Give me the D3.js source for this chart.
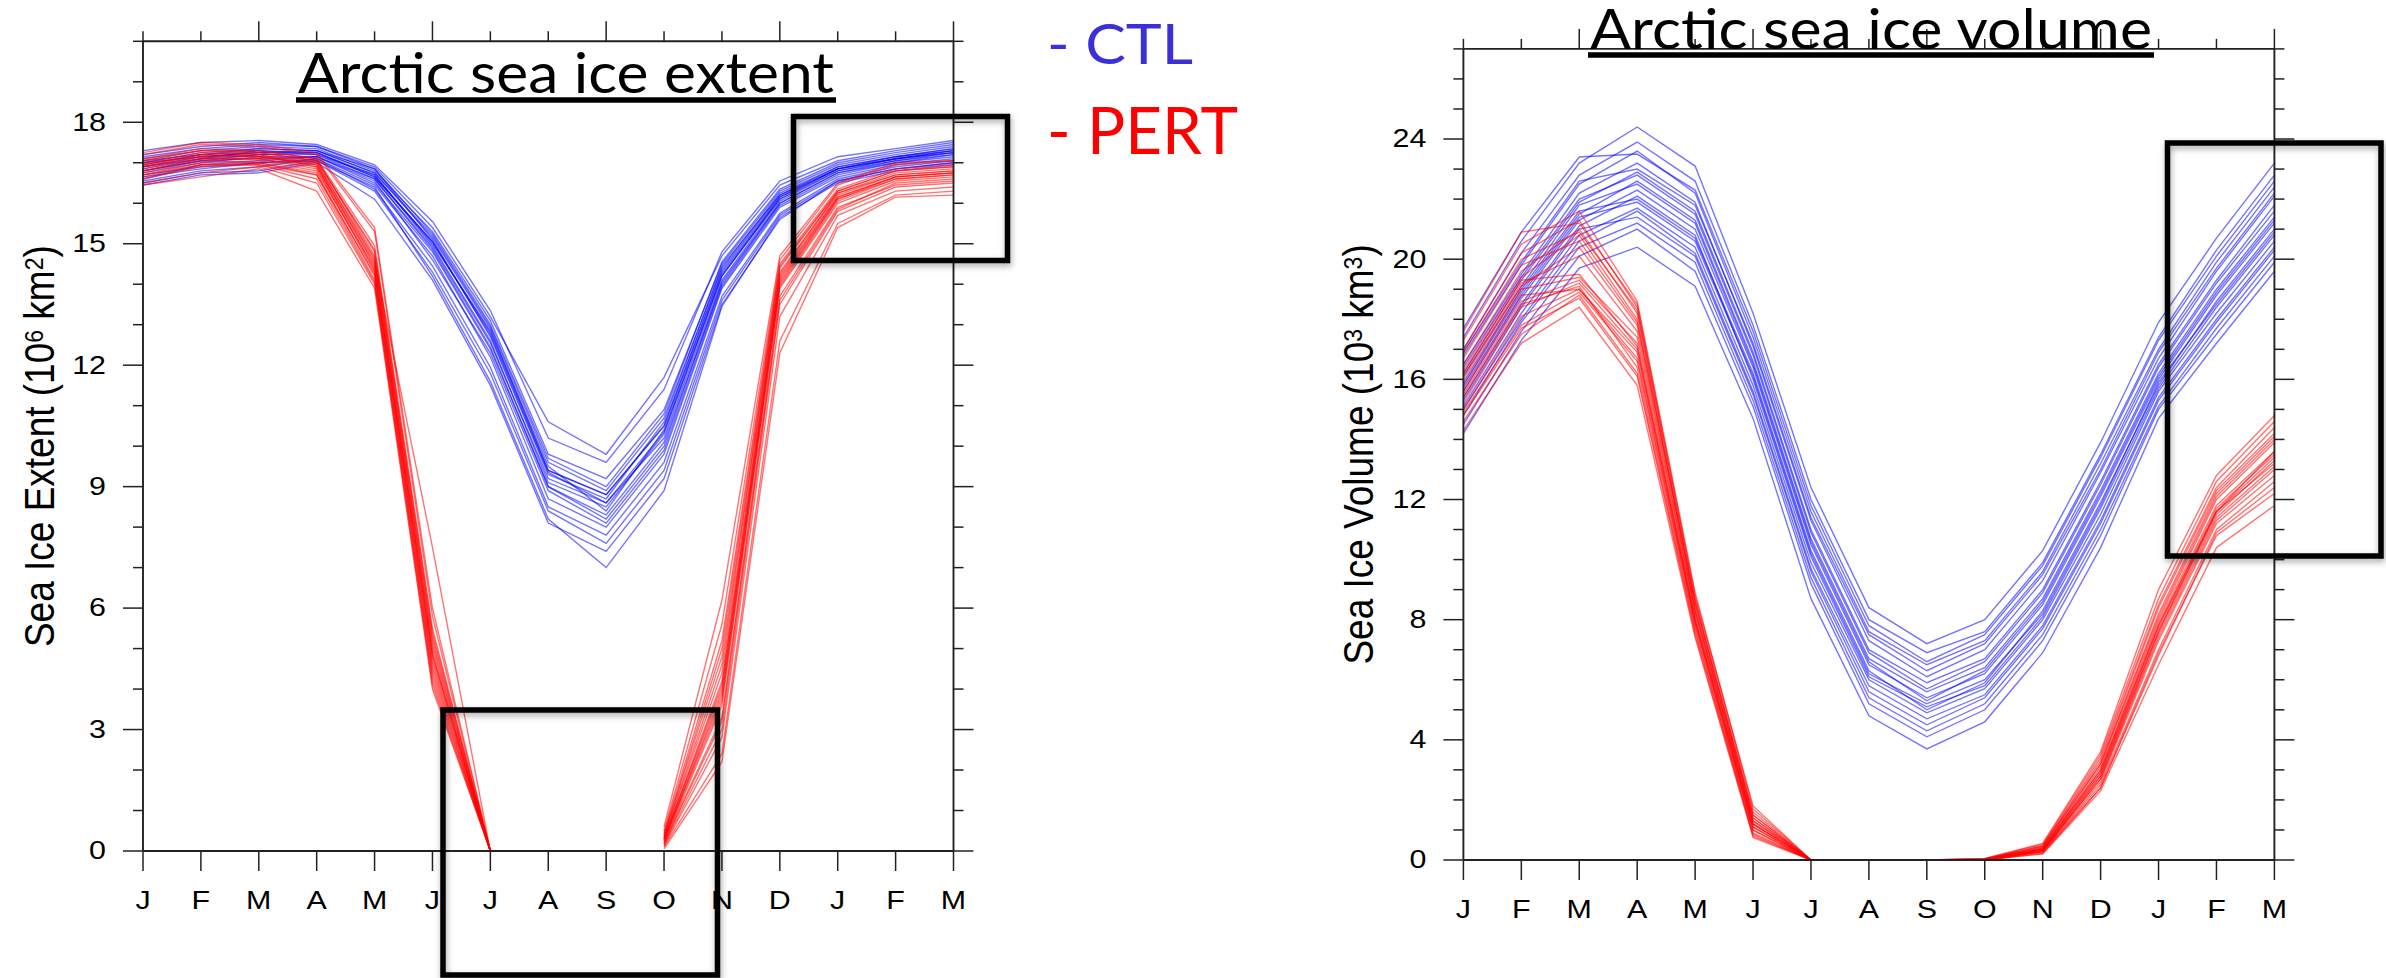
<!DOCTYPE html>
<html>
<head>
<meta charset="utf-8">
<script src="https://cdn.jsdelivr.net/npm/d3@7"></script>
<style>
  html, body { margin: 0; padding: 0; background: #fff; }
  svg { display: block; }
</style>
</head>
<body>
<div id="chart"></div>
<script>
// Month labels along the bottom axis (Jan of year 1 to Mar of year 2)
const months = ["J", "F", "M", "A", "M", "J", "J", "A", "S", "O", "N", "D", "J", "F", "M"];

// Tick values of both panels
const extentTicks = [0, 3, 6, 9, 12, 15, 18];
const volumeTicks = [0, 4, 8, 12, 16, 20, 24];
const topMajorMonths = [2, 5, 8, 11, 14];

// Arctic sea ice extent (10^6 km2), CTL ensemble members
const extentCtl = [
  [17.10, 17.30, 17.40, 17.35, 16.80, 15.30, 13.10, 9.80, 9.20, 10.90, 14.50, 16.30, 16.95, 17.20, 17.40],
  [16.90, 17.15, 17.25, 17.25, 16.65, 15.05, 12.80, 9.40, 8.80, 10.50, 14.30, 16.15, 16.85, 17.10, 17.30],
  [16.60, 16.95, 17.05, 17.15, 16.50, 14.80, 12.40, 9.00, 8.30, 10.10, 14.00, 16.00, 16.75, 17.00, 17.20],
  [17.30, 17.50, 17.55, 17.45, 16.95, 15.55, 13.35, 10.20, 9.60, 11.40, 14.80, 16.55, 17.15, 17.35, 17.55],
  [16.80, 17.05, 17.20, 17.20, 16.70, 14.95, 12.60, 9.10, 8.50, 10.30, 14.20, 16.10, 16.80, 17.05, 17.25],
  [16.50, 16.75, 16.80, 17.05, 16.30, 14.30, 11.80, 8.40, 7.60, 9.40, 13.60, 15.70, 16.55, 16.85, 17.00],
  [17.00, 17.25, 17.35, 17.30, 16.75, 15.20, 12.95, 9.60, 8.90, 10.70, 14.40, 16.25, 16.90, 17.15, 17.35],
  [16.70, 16.90, 17.00, 17.10, 16.45, 14.70, 12.20, 8.70, 8.00, 9.80, 13.90, 15.90, 16.65, 16.95, 17.10],
  [17.20, 17.40, 17.50, 17.40, 16.90, 15.40, 13.20, 10.60, 9.80, 11.70, 14.70, 16.45, 17.05, 17.30, 17.50],
  [16.85, 17.10, 17.30, 17.20, 16.60, 14.90, 12.55, 9.20, 8.60, 10.20, 14.10, 16.05, 16.80, 17.10, 17.25],
  [16.55, 16.80, 16.90, 17.10, 16.35, 14.45, 11.95, 8.50, 7.80, 9.60, 13.70, 15.75, 16.60, 16.90, 17.05],
  [17.05, 17.20, 17.35, 17.30, 16.85, 15.10, 12.70, 9.30, 8.70, 10.60, 14.45, 16.20, 16.90, 17.15, 17.35],
  [16.75, 17.00, 17.15, 17.15, 16.55, 14.60, 12.30, 8.90, 8.10, 9.90, 13.95, 15.95, 16.70, 17.00, 17.15],
  [16.95, 17.20, 17.30, 17.25, 16.70, 15.00, 12.85, 9.50, 8.40, 10.40, 14.25, 16.10, 16.85, 17.10, 17.30],
  [16.65, 16.85, 17.00, 17.05, 16.40, 14.20, 11.60, 8.20, 7.00, 8.90, 13.45, 15.65, 16.50, 16.80, 16.95],
  [17.15, 17.35, 17.45, 17.40, 16.85, 15.25, 13.00, 9.70, 9.00, 10.80, 14.55, 16.35, 17.00, 17.25, 17.45],
  [16.80, 17.05, 17.10, 17.15, 16.60, 14.85, 12.45, 9.00, 8.20, 10.00, 14.05, 16.00, 16.75, 17.05, 17.20],
  [17.00, 17.15, 17.25, 17.30, 16.75, 15.15, 12.90, 9.40, 8.80, 10.50, 14.35, 16.20, 16.85, 17.15, 17.30],
  [16.45, 16.70, 16.75, 17.00, 16.10, 14.10, 11.50, 8.10, 7.40, 9.20, 13.50, 15.60, 16.55, 16.85, 17.00],
  [16.90, 17.10, 17.20, 17.25, 16.65, 15.05, 12.75, 9.35, 8.60, 10.35, 14.20, 16.15, 16.85, 17.10, 17.25]
];

// Arctic sea ice extent (10^6 km2), PERT ensemble members (null = no ice, not plotted)
const extentPert = [
  [17.00, 17.25, 17.20, 17.00, 14.60, 5.00, 0, null, null, 0.30, 4.20, 14.20, 16.20, 16.70, 16.80],
  [16.80, 17.10, 17.10, 16.85, 14.30, 4.60, 0, null, null, 0.20, 3.60, 13.90, 16.00, 16.55, 16.65],
  [17.20, 17.45, 17.40, 17.20, 15.30, 5.80, 0, null, null, 0.50, 5.60, 14.60, 16.45, 16.95, 17.05],
  [16.60, 16.90, 16.95, 16.70, 14.10, 4.30, 0, null, null, 0.15, 3.00, 13.50, 15.80, 16.40, 16.50],
  [16.95, 17.20, 17.25, 17.05, 14.80, 5.30, 0, null, null, 0.35, 4.60, 14.40, 16.30, 16.80, 16.90],
  [16.70, 17.00, 17.05, 16.80, 14.40, 4.80, 0, null, null, 0.25, 3.90, 14.00, 16.10, 16.60, 16.70],
  [17.10, 17.35, 17.30, 17.10, 14.95, 5.50, 0, null, null, 0.45, 5.20, 14.50, 16.35, 16.85, 16.95],
  [16.50, 16.75, 16.90, 16.50, 14.00, 4.10, 0, null, null, 0.10, 2.40, 12.60, 15.50, 16.20, 16.30],
  [16.85, 17.15, 17.15, 16.95, 14.55, 7.50, 0, null, null, 0.30, 4.10, 14.15, 16.15, 16.65, 16.75],
  [17.05, 17.30, 17.30, 17.10, 14.70, 5.10, 0, null, null, 0.40, 4.80, 14.30, 16.25, 16.75, 16.85],
  [16.75, 17.05, 17.00, 16.75, 14.20, 4.50, 0, null, null, 0.20, 3.30, 13.70, 15.90, 16.45, 16.55],
  [16.90, 17.15, 17.20, 16.90, 14.50, 4.90, 0, null, null, 0.30, 4.00, 14.10, 16.15, 16.65, 16.75],
  [17.25, 17.50, 17.45, 17.25, 15.40, 6.00, 0, null, null, 0.60, 6.20, 14.70, 16.50, 17.00, 17.05],
  [16.65, 16.95, 16.95, 16.60, 14.05, 4.20, 0, null, null, 0.12, 2.80, 13.20, 15.70, 16.30, 16.40],
  [16.95, 17.20, 17.15, 17.00, 14.65, 5.20, 0, null, null, 0.35, 4.40, 14.25, 16.25, 16.70, 16.80],
  [16.45, 16.65, 16.85, 16.30, 13.90, 4.00, 0, null, null, 0.05, 2.20, 12.30, 15.40, 16.15, 16.20],
  [16.80, 17.10, 17.10, 16.90, 14.35, 4.70, 0, null, null, 0.25, 3.70, 13.95, 16.05, 16.60, 16.70],
  [17.05, 17.30, 17.25, 17.05, 14.85, 5.40, 0, null, null, 0.40, 5.00, 14.45, 16.30, 16.80, 16.90],
  [16.70, 16.95, 17.00, 16.70, 14.25, 4.40, 0, null, null, 0.18, 3.20, 13.60, 15.85, 16.50, 16.60],
  [16.90, 17.20, 17.15, 16.95, 14.45, 4.85, 0, null, null, 0.28, 3.80, 14.05, 16.10, 16.65, 16.75]
];

// Arctic sea ice volume (10^3 km3), CTL ensemble members
const volumeCtl = [
  [16.8, 19.8, 22.5, 23.6, 22.2, 17.4, 11.6, 7.6, 6.5, 7.3, 9.6, 13.2, 17.0, 19.9, 22.4],
  [15.6, 18.7, 21.3, 22.3, 21.0, 16.4, 10.5, 6.5, 5.4, 6.2, 8.5, 12.1, 16.0, 18.8, 21.2],
  [17.4, 20.6, 23.2, 24.4, 23.1, 18.2, 12.4, 8.4, 7.2, 8.0, 10.3, 13.9, 17.9, 20.7, 23.2],
  [14.5, 17.6, 20.1, 21.0, 19.6, 15.1, 9.2, 5.2, 4.1, 5.0, 7.3, 10.8, 15.0, 17.5, 19.9],
  [16.2, 19.3, 21.9, 22.9, 21.6, 16.9, 11.0, 7.0, 5.9, 6.7, 9.0, 12.6, 16.5, 19.3, 21.8],
  [15.1, 18.2, 20.8, 21.7, 20.4, 15.8, 9.9, 6.0, 4.9, 5.7, 8.0, 11.5, 15.6, 18.2, 20.6],
  [17.0, 20.2, 22.8, 23.9, 22.6, 17.8, 12.0, 8.0, 6.9, 7.6, 9.9, 13.5, 17.4, 20.3, 22.8],
  [15.9, 19.0, 21.6, 22.0, 20.7, 16.2, 10.3, 6.3, 5.0, 5.9, 8.3, 11.9, 15.8, 18.6, 21.0],
  [14.2, 17.3, 19.7, 20.4, 19.1, 14.7, 8.7, 4.8, 3.7, 4.6, 6.9, 10.4, 14.7, 17.2, 19.6],
  [16.5, 19.5, 22.2, 23.2, 21.9, 17.1, 11.3, 7.3, 6.1, 7.0, 9.3, 12.9, 16.7, 19.6, 22.1],
  [15.3, 18.4, 21.0, 21.4, 20.1, 15.5, 9.6, 5.6, 4.5, 5.4, 7.7, 11.2, 15.3, 17.9, 20.3],
  [17.7, 20.9, 23.4, 23.5, 22.3, 17.6, 11.8, 7.8, 6.6, 7.5, 9.8, 13.4, 17.3, 20.1, 22.6],
  [15.8, 18.9, 21.5, 22.6, 21.3, 16.6, 10.7, 6.7, 5.6, 6.4, 8.7, 12.3, 16.2, 19.0, 21.4],
  [14.8, 17.9, 20.4, 21.2, 19.9, 15.3, 9.4, 5.4, 4.3, 5.2, 7.5, 11.0, 15.1, 17.7, 20.1],
  [16.4, 19.4, 22.0, 22.8, 21.5, 16.8, 10.9, 6.9, 5.7, 6.6, 8.9, 12.5, 16.4, 19.2, 21.6],
  [15.4, 18.5, 21.1, 22.1, 20.8, 16.0, 10.1, 6.1, 5.1, 5.8, 8.1, 11.7, 15.7, 18.4, 20.8],
  [16.9, 19.9, 22.6, 23.0, 21.8, 17.2, 11.4, 7.5, 6.3, 7.2, 9.5, 13.0, 16.9, 19.7, 22.2],
  [15.0, 18.0, 20.6, 21.6, 20.2, 15.6, 9.7, 5.8, 4.7, 5.5, 7.8, 11.3, 15.4, 18.0, 20.4],
  [16.1, 19.1, 21.8, 22.5, 21.2, 16.5, 10.6, 6.6, 5.3, 6.3, 8.6, 12.2, 16.1, 18.9, 21.3],
  [15.7, 18.8, 21.4, 21.9, 20.6, 16.1, 10.2, 6.2, 5.2, 6.0, 8.2, 11.8, 15.9, 18.5, 20.9]
];

// Arctic sea ice volume (10^3 km3), PERT ensemble members
const volumePert = [
  [16.5, 19.6, 21.0, 18.2, 8.4, 1.30, 0, 0, 0, 0.02, 0.40, 3.0, 7.9, 11.8, 13.6],
  [15.2, 18.4, 19.2, 17.0, 8.0, 1.10, 0, 0, 0, 0.01, 0.32, 2.7, 7.5, 11.4, 13.1],
  [17.3, 20.5, 21.6, 18.6, 8.9, 1.70, 0, 0, 0, 0.04, 0.52, 3.5, 8.7, 12.6, 14.6],
  [14.6, 17.5, 18.8, 16.2, 7.6, 0.90, 0, 0, 0, 0.00, 0.25, 2.4, 6.8, 10.9, 12.4],
  [16.0, 19.1, 20.4, 17.8, 8.3, 1.40, 0, 0, 0, 0.02, 0.38, 3.1, 8.0, 12.0, 13.9],
  [15.6, 18.8, 19.0, 16.9, 7.9, 1.00, 0, 0, 0, 0.01, 0.30, 2.8, 7.6, 11.5, 13.3],
  [17.0, 20.2, 21.3, 18.4, 8.7, 1.60, 0, 0, 0, 0.03, 0.48, 3.3, 8.4, 12.3, 14.2],
  [14.9, 17.8, 18.9, 16.6, 7.8, 1.00, 0, 0, 0, 0.00, 0.28, 2.6, 7.3, 11.2, 12.8],
  [16.3, 19.4, 20.8, 18.0, 8.5, 1.50, 0, 0, 0, 0.02, 0.42, 3.2, 8.1, 12.1, 14.0],
  [15.4, 18.5, 19.1, 16.4, 7.7, 0.85, 0, 0, 0, 0.01, 0.27, 2.5, 7.0, 11.0, 12.6],
  [17.6, 20.9, 21.2, 18.5, 8.8, 1.80, 0, 0, 0, 0.05, 0.55, 3.6, 9.0, 12.8, 14.8],
  [15.8, 19.0, 19.4, 17.4, 8.2, 1.20, 0, 0, 0, 0.02, 0.35, 2.9, 7.7, 11.6, 13.4],
  [14.3, 17.2, 18.4, 15.8, 7.4, 0.75, 0, 0, 0, 0.00, 0.20, 2.3, 6.5, 10.4, 11.8],
  [16.7, 19.8, 20.6, 17.9, 8.6, 1.40, 0, 0, 0, 0.03, 0.45, 3.2, 8.2, 12.2, 14.1],
  [15.0, 18.1, 19.0, 16.7, 7.9, 1.10, 0, 0, 0, 0.01, 0.30, 2.7, 7.4, 11.3, 13.0],
  [16.1, 19.2, 20.1, 17.6, 8.3, 1.30, 0, 0, 0, 0.02, 0.37, 3.0, 7.8, 11.7, 13.5],
  [15.5, 18.6, 19.3, 17.2, 8.1, 1.20, 0, 0, 0, 0.01, 0.33, 2.8, 7.6, 11.6, 13.2],
  [16.9, 20.0, 20.9, 18.3, 8.6, 1.50, 0, 0, 0, 0.03, 0.46, 3.4, 8.5, 12.4, 14.4],
  [14.8, 17.7, 18.7, 16.1, 7.5, 0.80, 0, 0, 0, 0.00, 0.22, 2.4, 6.9, 10.8, 12.2],
  [16.2, 19.3, 19.5, 17.1, 8.0, 1.20, 0, 0, 0, 0.02, 0.36, 2.9, 7.8, 11.6, 13.6]
];

document.addEventListener('DOMContentLoaded', () => {

  const W = 2386, H = 978;
  const tickFont = '"Liberation Sans", Arial, Helvetica, sans-serif';
  const slideFont = 'Lato, "Open Sans", sans-serif';
  const ctlColor = '#0000ff';
  const pertColor = '#ff0000';

  const svg = d3.select('#chart').append('svg')
    .attr('width', W)
    .attr('height', H);

  svg.append('rect').attr('width', W).attr('height', H).attr('fill', '#fff');

  // shadow for the highlight boxes
  const defs = svg.append('defs');
  defs.append('filter')
    .attr('id', 'boxShadow')
    .attr('x', '-10%').attr('y', '-10%').attr('width', '120%').attr('height', '120%')
    .append('feDropShadow')
    .attr('dx', 1).attr('dy', 3)
    .attr('stdDeviation', 3)
    .attr('flood-color', '#000')
    .attr('flood-opacity', 0.35);

  // the NCL plots look a bit wider than tall: stretch the text horizontally
  function stretch(sel, k) {
    sel.each(function () {
      const t = d3.select(this);
      const x = +t.attr('x') || 0;
      const y = +t.attr('y') || 0;
      t.attr('x', 0).attr('y', 0)
        .attr('transform', `translate(${x},${y}) scale(${k},1)`);
    });
  }

  function styleAxis(g) {
    g.attr('font-family', tickFont).attr('font-size', 26);
    g.selectAll('line').attr('stroke', '#222').attr('stroke-width', 1.5);
    g.selectAll('path.domain').attr('stroke', '#222').attr('stroke-width', 1.9);
    g.selectAll('text').attr('fill', '#000');
  }

  // one panel of the figure
  function drawPanel(p) {
    const x = d3.scaleLinear().domain([0, months.length - 1]).range([p.left, p.right]);
    const y = d3.scaleLinear().domain([0, p.yMax]).range([p.bottom, p.top]);

    // months without ice (null) leave a gap in the member's line
    const line = d3.line()
      .defined(d => d !== null)
      .x((d, i) => x(i))
      .y(d => y(d));

    const g = svg.append('g');

    // ensemble members, CTL first then PERT
    g.append('g').selectAll('path')
      .data(p.ctl)
      .join('path')
      .attr('d', line)
      .attr('fill', 'none')
      .attr('stroke', ctlColor)
      .attr('stroke-width', 1.4)
      .attr('stroke-opacity', 0.55);

    g.append('g').selectAll('path')
      .data(p.pert)
      .join('path')
      .attr('d', line)
      .attr('fill', 'none')
      .attr('stroke', pertColor)
      .attr('stroke-width', 1.4)
      .attr('stroke-opacity', 0.55);

    const minorY = d3.range(1, p.yMax + 1).filter(v => v % p.yStep !== 0);
    const allMonths = d3.range(months.length);
    const minorTop = allMonths.filter(i => !topMajorMonths.includes(i));

    // left axis with labels
    const left = g.append('g')
      .attr('transform', `translate(${p.left},0)`)
      .call(d3.axisLeft(y).offset(0).tickValues(p.yTicks).tickSize(20).tickSizeOuter(0).tickPadding(17))
      .call(styleAxis);
    stretch(left.selectAll('text'), 1.17);

    g.append('g')
      .attr('transform', `translate(${p.left},0)`)
      .call(d3.axisLeft(y).offset(0).tickValues(minorY).tickSize(10).tickFormat(''))
      .call(s => s.select('.domain').remove())
      .call(styleAxis);

    // right axis, ticks only
    g.append('g')
      .attr('transform', `translate(${p.right},0)`)
      .call(d3.axisRight(y).offset(0).tickValues(p.yTicks).tickSize(20).tickSizeOuter(0).tickFormat(''))
      .call(styleAxis);

    g.append('g')
      .attr('transform', `translate(${p.right},0)`)
      .call(d3.axisRight(y).offset(0).tickValues(minorY).tickSize(10).tickFormat(''))
      .call(s => s.select('.domain').remove())
      .call(styleAxis);

    // top axis, ticks only
    g.append('g')
      .attr('transform', `translate(0,${p.top})`)
      .call(d3.axisTop(x).offset(0).tickValues(topMajorMonths).tickSize(20).tickSizeOuter(0).tickFormat(''))
      .call(styleAxis);

    g.append('g')
      .attr('transform', `translate(0,${p.top})`)
      .call(d3.axisTop(x).offset(0).tickValues(minorTop).tickSize(10).tickFormat(''))
      .call(s => s.select('.domain').remove())
      .call(styleAxis);

    // bottom axis with month letters
    const bottom = g.append('g')
      .attr('transform', `translate(0,${p.bottom})`)
      .call(d3.axisBottom(x).offset(0).tickValues(allMonths).tickSize(20).tickSizeOuter(0).tickPadding(20)
        .tickFormat(i => months[i]))
      .call(styleAxis);
    stretch(bottom.selectAll('text'), 1.17);

    // y axis title with superscripts
    const title = g.append('text')
      .attr('transform', `translate(${p.labelX},${(p.top + p.bottom) / 2}) scale(1.15,1) rotate(-90)`)
      .attr('text-anchor', 'middle')
      .attr('font-family', tickFont)
      .attr('font-size', 37)
      .attr('fill', '#000');
    title.append('tspan').text(p.yLabel[0]);
    title.append('tspan').attr('baseline-shift', '40%').attr('font-size', 23).text(p.yLabel[1]);
    title.append('tspan').text(p.yLabel[2]);
    title.append('tspan').attr('baseline-shift', '40%').attr('font-size', 23).text(p.yLabel[3]);
    title.append('tspan').text(p.yLabel[4]);

    // slide title, underlined
    svg.append('text')
      .attr('x', p.titleX0)
      .attr('y', p.titleY)
      .attr('font-family', slideFont)
      .attr('font-size', 57)
      .attr('textLength', p.titleX1 - p.titleX0)
      .attr('lengthAdjust', 'spacingAndGlyphs')
      .attr('fill', '#000')
      .text(p.title);

    svg.append('line')
      .attr('x1', p.titleX0 - 2).attr('x2', p.titleX1 + 2)
      .attr('y1', p.underlineY).attr('y2', p.underlineY)
      .attr('stroke', '#000')
      .attr('stroke-width', 5.5);
  }

  drawPanel({
    left: 143, right: 953.5, top: 41.3, bottom: 851,
    yMax: 20, yStep: 3, yTicks: extentTicks,
    ctl: extentCtl, pert: extentPert,
    labelX: 54,
    yLabel: ['Sea Ice Extent (10', '6', ' km', '2', ')'],
    title: 'Arctic sea ice extent',
    titleX0: 298, titleX1: 834, titleY: 93, underlineY: 100
  });

  drawPanel({
    left: 1463.4, right: 2274.4, top: 48.9, bottom: 860,
    yMax: 27, yStep: 4, yTicks: volumeTicks,
    ctl: volumeCtl, pert: volumePert,
    labelX: 1373,
    yLabel: ['Sea Ice Volume (10', '3', ' km', '3', ')'],
    title: 'Arctic sea ice volume',
    titleX0: 1590, titleX1: 2152, titleY: 49, underlineY: 55
  });

  // legend added on the slide
  svg.append('text')
    .attr('x', 1047).attr('y', 64)
    .attr('font-family', slideFont)
    .attr('font-size', 57)
    .attr('textLength', 146)
    .attr('lengthAdjust', 'spacingAndGlyphs')
    .attr('fill', '#3a2fd8')
    .text('- CTL');

  svg.append('text')
    .attr('x', 1047).attr('y', 154)
    .attr('font-family', slideFont)
    .attr('font-size', 65)
    .attr('textLength', 191)
    .attr('lengthAdjust', 'spacingAndGlyphs')
    .attr('fill', '#ff0000')
    .text('- PERT');

  // highlight boxes drawn over the plots
  const boxes = [
    { x0: 793.5, y0: 116.5, x1: 1007.5, y1: 260.5 },
    { x0: 443, y0: 710, x1: 717.5, y1: 975 },
    { x0: 2167.5, y0: 143, x1: 2381, y1: 556 }
  ];

  svg.append('g').selectAll('rect')
    .data(boxes)
    .join('rect')
    .attr('x', d => d.x0)
    .attr('y', d => d.y0)
    .attr('width', d => d.x1 - d.x0)
    .attr('height', d => d.y1 - d.y0)
    .attr('fill', 'none')
    .attr('stroke', '#000')
    .attr('stroke-width', 5.5)
    .attr('filter', 'url(#boxShadow)');
});
</script>
</body>
</html>
